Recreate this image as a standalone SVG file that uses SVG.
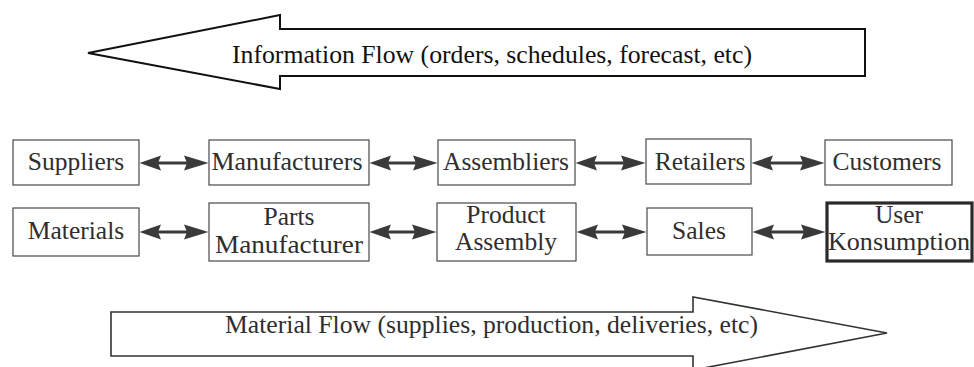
<svg xmlns="http://www.w3.org/2000/svg" width="974" height="367" viewBox="0 0 974 367">
<defs>
<marker id="unused" markerWidth="1" markerHeight="1"><path d="M0,0"/></marker>
</defs>
<rect x="0" y="0" width="974" height="367" fill="#ffffff"/>

<g id="info-flow">
<polygon fill="#ffffff" stroke="#111111" stroke-width="2" points="88,53 280,15 280,29 865,29 865,76 280,76 280,89"/>
<text font-family="Liberation Serif" font-size="25.5" fill="#111111" x="232" y="63" textLength="520" lengthAdjust="spacingAndGlyphs">Information Flow (orders, schedules, forecast, etc)</text>
</g>

<g id="material-flow">
<polygon fill="#ffffff" stroke="#333333" stroke-width="1.6" points="111,312 693,312 693,297 887,333 693,370 693,356 111,356"/>
<text font-family="Liberation Serif" font-size="25.5" fill="#2e2e2e" x="225" y="333" textLength="533" lengthAdjust="spacingAndGlyphs">Material Flow (supplies, production, deliveries, etc)</text>
</g>

<g font-family="Liberation Serif" font-size="25.5" text-anchor="middle">
<g id="suppliers"><rect x="13" y="140" width="126" height="45" fill="#fff" stroke="#4a4a4a" stroke-width="1.2"/><text fill="#2e2e2e" x="76" y="170">Suppliers</text></g>
<g id="manufacturers"><rect x="209" y="140" width="160" height="45" fill="#fff" stroke="#4a4a4a" stroke-width="1.2"/><text fill="#2e2e2e" x="287" y="170" textLength="151" lengthAdjust="spacingAndGlyphs">Manufacturers</text></g>
<g id="assembliers"><rect x="438" y="140" width="137" height="45" fill="#fff" stroke="#4a4a4a" stroke-width="1.2"/><text fill="#2e2e2e" x="506" y="170" textLength="126" lengthAdjust="spacingAndGlyphs">Assembliers</text></g>
<g id="retailers"><rect x="646" y="139" width="105" height="45" fill="#fff" stroke="#4a4a4a" stroke-width="1.2"/><text fill="#2e2e2e" x="700" y="170">Retailers</text></g>
<g id="customers"><rect x="825" y="140" width="127" height="45" fill="#fff" stroke="#4a4a4a" stroke-width="1.2"/><text fill="#2e2e2e" x="887" y="170">Customers</text></g>

<g id="materials"><rect x="13" y="208" width="126" height="48" fill="#fff" stroke="#4a4a4a" stroke-width="1.2"/><text fill="#2e2e2e" x="76" y="239">Materials</text></g>
<g id="parts-manufacturer"><rect x="209" y="203" width="160" height="58" fill="#fff" stroke="#4a4a4a" stroke-width="1.2"/><text fill="#2e2e2e" x="289" y="225">Parts</text><text fill="#2e2e2e" x="289" y="253" textLength="148" lengthAdjust="spacingAndGlyphs">Manufacturer</text></g>
<g id="product-assembly"><rect x="437" y="203" width="139" height="58" fill="#fff" stroke="#4a4a4a" stroke-width="1.2"/><text fill="#2e2e2e" x="506" y="223">Product</text><text fill="#2e2e2e" x="506" y="250" textLength="102" lengthAdjust="spacingAndGlyphs">Assembly</text></g>
<g id="sales"><rect x="647" y="208" width="105" height="47" fill="#fff" stroke="#4a4a4a" stroke-width="1.2"/><text fill="#2e2e2e" x="699" y="239">Sales</text></g>
<g id="user-konsumption"><rect x="827" y="203" width="145" height="58" fill="#fff" stroke="#2a2a2a" stroke-width="3.2"/><text fill="#2e2e2e" x="899" y="223">User</text><text fill="#2e2e2e" x="899" y="250" textLength="142" lengthAdjust="spacingAndGlyphs">Konsumption</text></g>
</g>

<g id="connectors" stroke="#3a3a3a" fill="#3a3a3a">
<g stroke-width="3">
<line x1="155" y1="163" x2="192" y2="163"/><line x1="385" y1="163" x2="421" y2="163"/><line x1="591" y1="163" x2="629" y2="163"/><line x1="767" y1="163" x2="808" y2="163"/>
<line x1="155" y1="232" x2="192" y2="232"/><line x1="385" y1="232" x2="420" y2="232"/><line x1="592" y1="232" x2="630" y2="232"/><line x1="768" y1="232" x2="809" y2="232"/>
</g>
<g stroke="none">
<polygon points="139.5,163 161,155.5 158,163 161,170.5"/><polygon points="208.5,163 184,155.5 187,163 184,170.5"/>
<polygon points="369.5,163 391,155.5 388,163 391,170.5"/><polygon points="437.5,163 413,155.5 416,163 413,170.5"/>
<polygon points="575.5,163 597,155.5 594,163 597,170.5"/><polygon points="645.5,163 621,155.5 624,163 621,170.5"/>
<polygon points="751.5,163 773,155.5 770,163 773,170.5"/><polygon points="824.5,163 800,155.5 803,163 800,170.5"/>
<polygon points="139.5,232 161,224.5 158,232 161,239.5"/><polygon points="208.5,232 184,224.5 187,232 184,239.5"/>
<polygon points="369.5,232 391,224.5 388,232 391,239.5"/><polygon points="436.5,232 412,224.5 415,232 412,239.5"/>
<polygon points="576.5,232 598,224.5 595,232 598,239.5"/><polygon points="646.5,232 622,224.5 625,232 622,239.5"/>
<polygon points="752.5,232 774,224.5 771,232 774,239.5"/><polygon points="825.5,232 801,224.5 804,232 801,239.5"/>
</g>
</g>
</svg>
